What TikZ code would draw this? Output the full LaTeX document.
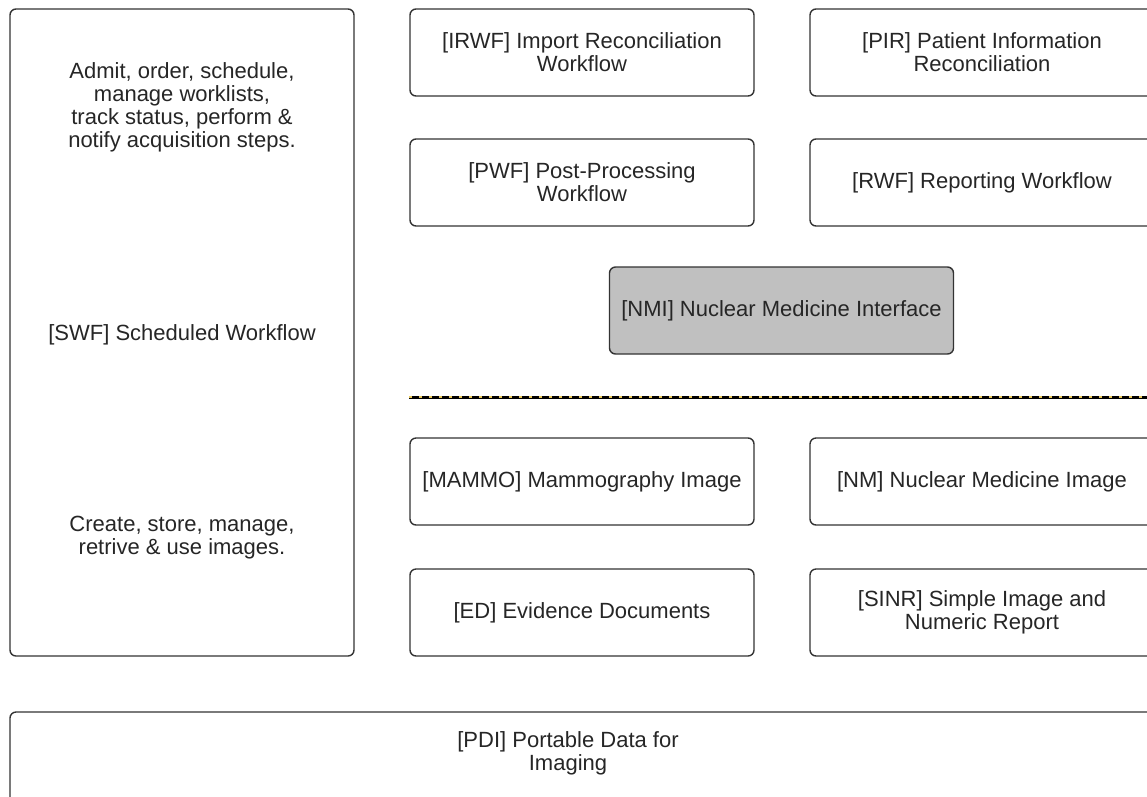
\documentclass[tikz,border=0pt]{standalone}
\usepackage{fontspec}
\setmainfont{Liberation Sans}
\definecolor{edge}{HTML}{333333}
\definecolor{ink}{HTML}{262626}
\definecolor{greyfill}{HTML}{C0C0C0}
\definecolor{sepyellow}{HTML}{E6C65A}
\tikzset{
  box/.style={draw=edge, line width=1.4pt, rounded corners=6pt, fill=white,
    minimum width=344pt, minimum height=87pt, inner sep=0pt,
    align=center, text=ink, font=\fontsize{22}{23}\selectfont},
  label/.style={align=center, text=ink, inner sep=0pt, font=\fontsize{22}{23}\selectfont},
  hot/.style={box, fill=greyfill}
}
\begin{document}
\begin{tikzpicture}[x=1pt,y=-1pt]
\useasboundingbox (0,0) rectangle (1147,796);
\clip (0,0) rectangle (1147,796);
\fill[white] (0,0) rectangle (1147,796);

% left column: scheduled workflow profile
\node[box, minimum width=344pt, minimum height=647pt] (swf) at (182,332.5) {};
\node[label] (swftop) at (182,107) {Admit, order, schedule,\\manage worklists,\\track status, perform \&\\notify acquisition steps.};
\node[label] (swfmid) at (182,335) {[SWF] Scheduled Workflow};
\node[label] (swfbot) at (182,538) {Create, store, manage,\\retrive \& use images.};

% workflow profiles
\node[box] (irwf) at (582,52.5) {[IRWF] Import Reconciliation\\Workflow};
\node[box] (pir) at (982,52.5) {[PIR] Patient Information\\Reconciliation};
\node[box] (pwf) at (582,182.5) {[PWF] Post-Processing\\Workflow};
\node[box] (rwf) at (982,182.5) {[RWF] Reporting Workflow};
\node[hot] (nmi) at (781.5,310.5) {[NMI] Nuclear Medicine Interface};

% separator between workflow and content profiles
\coordinate (sepL) at (409,397);
\coordinate (sepR) at (1160,397);
\draw[black, line width=3pt] (sepL) -- (sepR);
\draw[sepyellow, line width=1.1pt, dash pattern=on 3pt off 7pt] (sepL) -- (sepR);

% content profiles
\node[box] (mammo) at (582,481.5) {[MAMMO] Mammography Image};
\node[box] (nm) at (982,481.5) {[NM] Nuclear Medicine Image};
\node[box] (ed) at (582,612.5) {[ED] Evidence Documents};
\node[box] (sinr) at (982,612.5) {[SINR] Simple Image and\\Numeric Report};

% portable media profile
\node[box, minimum width=1200pt, minimum height=120pt] (pdi) at (610,772) {};
\node[label] (pditext) at (568,753) {[PDI] Portable Data for\\Imaging};
\end{tikzpicture}
\end{document}
